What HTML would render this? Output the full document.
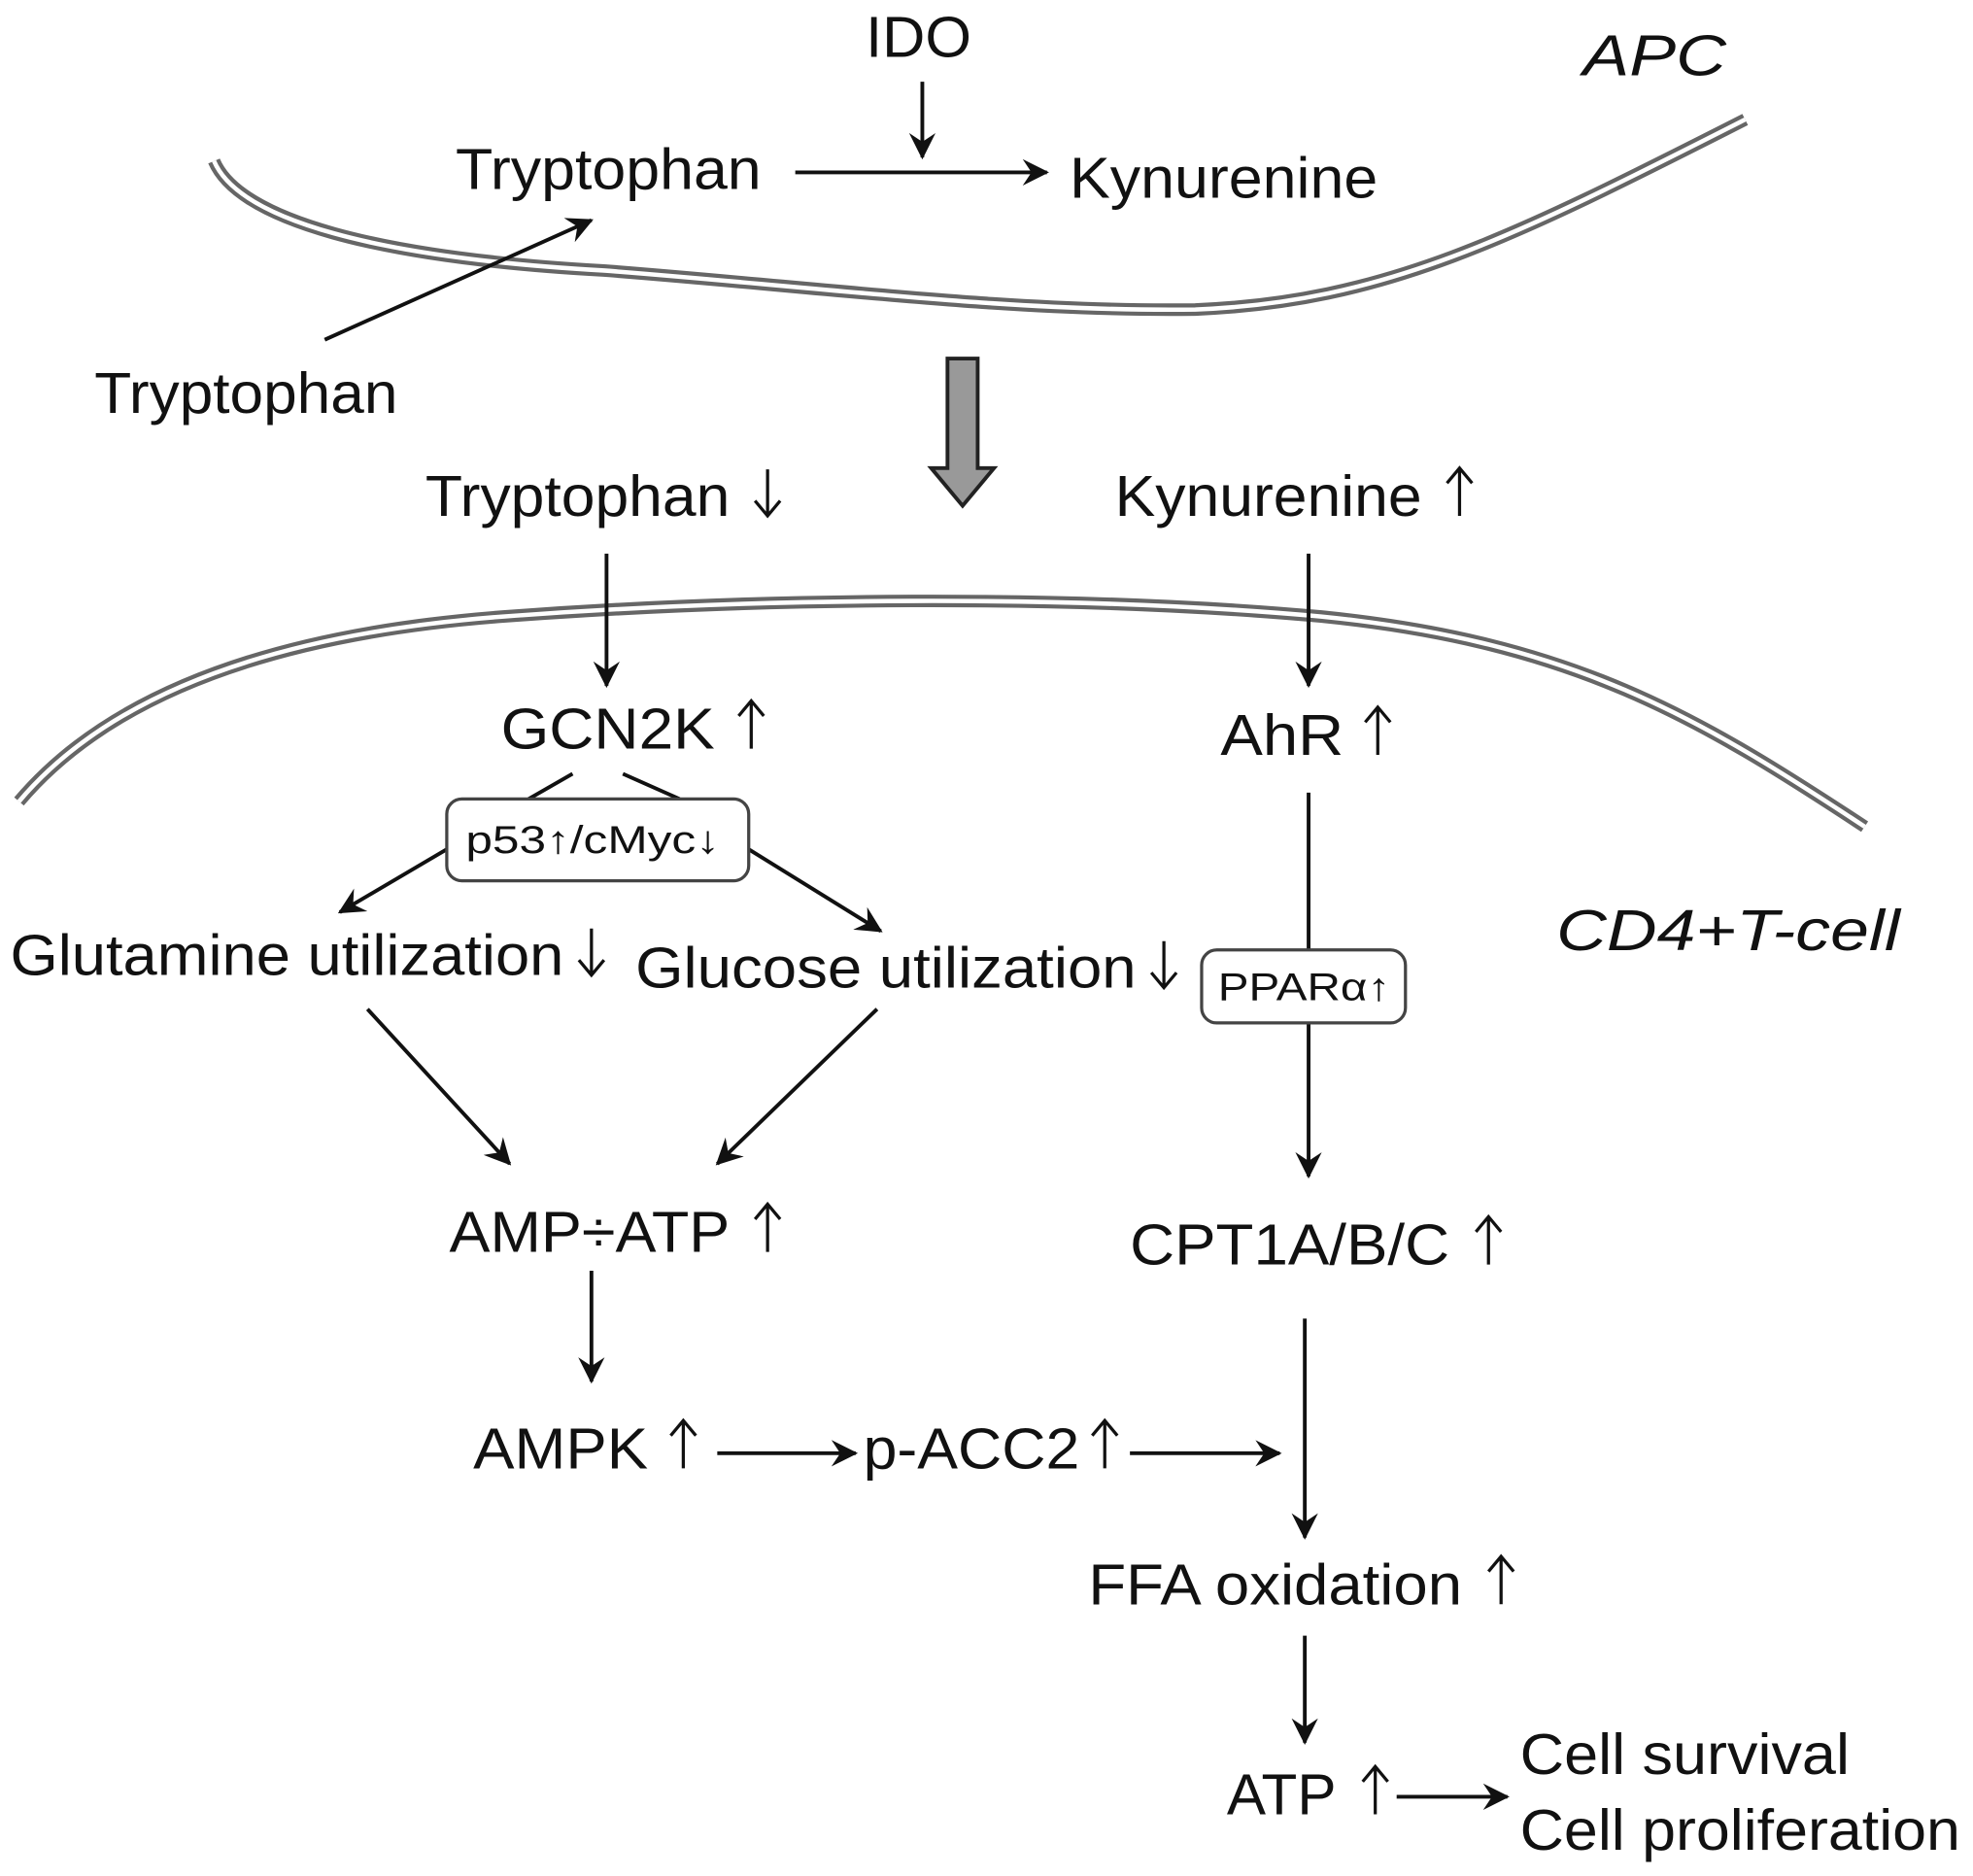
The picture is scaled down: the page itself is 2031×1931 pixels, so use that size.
<!DOCTYPE html>
<html><head><meta charset="utf-8"><style>
html,body{margin:0;padding:0;background:#fff;}
svg{display:block;}
text{font-family:"Liberation Sans",Arial,sans-serif;fill:#111;}
</style></head><body>
<svg width="2031" height="1931" viewBox="0 0 1568 1491" xmlns="http://www.w3.org/2000/svg">
<defs>
<marker id="a" viewBox="0 0 12 12" refX="11" refY="6" markerWidth="7" markerHeight="7" markerUnits="strokeWidth" orient="auto">
<path d="M0,0 L12,6 L0,12 L4,6 Z" fill="#111"/>
</marker>
</defs>
<rect width="1568" height="1491" fill="#fff"/>
<g fill="none">
<path d="M170,128 C190,175 300,205 480,215 C650,228 800,248 950,246 C1100,240 1200,190 1387,95" stroke="#666" stroke-width="10"/>
<path d="M170,128 C190,175 300,205 480,215 C650,228 800,248 950,246 C1100,240 1200,190 1387,95" stroke="#fff" stroke-width="3.5"/>
<path d="M15,637 C80,560 200,505 400,490 C600,475 850,472 1050,490 C1250,510 1350,570 1482,657" stroke="#666" stroke-width="10"/>
<path d="M15,637 C80,560 200,505 400,490 C600,475 850,472 1050,490 C1250,510 1350,570 1482,657" stroke="#fff" stroke-width="3.5"/>
</g>
<g font-size="46" lengthAdjust="spacingAndGlyphs">
<text x="688" y="45" textLength="84" lengthAdjust="spacingAndGlyphs">IDO</text>
<text x="1258" y="60" font-style="italic" textLength="114" lengthAdjust="spacingAndGlyphs">APC</text>
<text x="362" y="150" textLength="243" lengthAdjust="spacingAndGlyphs">Tryptophan</text>
<text x="850" y="157" textLength="245" lengthAdjust="spacingAndGlyphs">Kynurenine</text>
<text x="75" y="328" textLength="241" lengthAdjust="spacingAndGlyphs">Tryptophan</text>
<text x="338" y="410" textLength="242" lengthAdjust="spacingAndGlyphs">Tryptophan</text>
<text x="886" y="410" textLength="244" lengthAdjust="spacingAndGlyphs">Kynurenine</text>
<text x="398" y="595" textLength="170" lengthAdjust="spacingAndGlyphs">GCN2K</text>
<text x="970" y="600" textLength="98" lengthAdjust="spacingAndGlyphs">AhR</text>
<text x="8" y="775" textLength="440" lengthAdjust="spacingAndGlyphs">Glutamine utilization</text>
<text x="505" y="785" textLength="398" lengthAdjust="spacingAndGlyphs">Glucose utilization</text>
<text x="1237" y="755" font-style="italic" textLength="273" lengthAdjust="spacingAndGlyphs">CD4+T-cell</text>
<text x="357" y="995" textLength="223" lengthAdjust="spacingAndGlyphs">AMP÷ATP</text>
<text x="898" y="1005" textLength="254" lengthAdjust="spacingAndGlyphs">CPT1A/B/C</text>
<text x="376" y="1167" textLength="139" lengthAdjust="spacingAndGlyphs">AMPK</text>
<text x="686" y="1167" textLength="172" lengthAdjust="spacingAndGlyphs">p-ACC2</text>
<text x="865" y="1275" textLength="297" lengthAdjust="spacingAndGlyphs">FFA oxidation</text>
<text x="975" y="1442" textLength="87" lengthAdjust="spacingAndGlyphs">ATP</text>
<text x="1208" y="1410" textLength="262" lengthAdjust="spacingAndGlyphs">Cell survival</text>
<text x="1208" y="1470" textLength="350" lengthAdjust="spacingAndGlyphs">Cell proliferation</text>
</g>
<!-- up/down glyph arrows -->
<g stroke="#111" stroke-width="2.5" fill="none">
<path d="M610,373 V410 M600,398 L610,410 L620,398"/>
<path d="M1160,410 V372 M1150,384 L1160,372 L1170,384"/>
<path d="M597,595 V557 M587,569 L597,557 L607,569"/>
<path d="M1095,600 V562 M1085,574 L1095,562 L1105,574"/>
<path d="M470,738 V775 M460,763 L470,775 L480,763"/>
<path d="M925,748 V785 M915,773 L925,785 L935,773"/>
<path d="M610,995 V957 M600,969 L610,957 L620,969"/>
<path d="M1183,1005 V967 M1173,979 L1183,967 L1193,979"/>
<path d="M543,1167 V1129 M533,1141 L543,1129 L553,1141"/>
<path d="M878,1167 V1129 M868,1141 L878,1129 L888,1141"/>
<path d="M1193,1275 V1237 M1183,1249 L1193,1237 L1203,1249"/>
<path d="M1093,1442 V1404 M1083,1416 L1093,1404 L1103,1416"/>
</g>
<g stroke="#111" stroke-width="3" fill="none">
<line x1="733" y1="65" x2="733" y2="125" marker-end="url(#a)"/>
<line x1="632" y1="137" x2="832" y2="137" marker-end="url(#a)"/>
<line x1="258" y1="270" x2="470" y2="175" marker-end="url(#a)"/>
<line x1="482" y1="440" x2="482" y2="545" marker-end="url(#a)"/>
<line x1="1040" y1="440" x2="1040" y2="545" marker-end="url(#a)"/>
<line x1="455" y1="615" x2="420" y2="635"/>
<line x1="495" y1="615" x2="540" y2="635"/>
<line x1="355" y1="675" x2="270" y2="725" marker-end="url(#a)"/>
<line x1="595" y1="675" x2="700" y2="740" marker-end="url(#a)"/>
<line x1="1040" y1="630" x2="1040" y2="755"/>
<line x1="1040" y1="813" x2="1040" y2="935" marker-end="url(#a)"/>
<line x1="292" y1="802" x2="405" y2="925" marker-end="url(#a)"/>
<line x1="697" y1="802" x2="570" y2="925" marker-end="url(#a)"/>
<line x1="470" y1="1010" x2="470" y2="1098" marker-end="url(#a)"/>
<line x1="570" y1="1155" x2="680" y2="1155" marker-end="url(#a)"/>
<line x1="898" y1="1155" x2="1017" y2="1155" marker-end="url(#a)"/>
<line x1="1037" y1="1048" x2="1037" y2="1222" marker-end="url(#a)"/>
<line x1="1037" y1="1300" x2="1037" y2="1385" marker-end="url(#a)"/>
<line x1="1110" y1="1428" x2="1198" y2="1428" marker-end="url(#a)"/>
</g>
<rect x="355" y="635" width="240" height="65" rx="12" fill="#fff" stroke="#444" stroke-width="2.5"/>
<text x="370" y="678" font-size="31" textLength="202" lengthAdjust="spacingAndGlyphs" fill="#333">p53↑/cMyc↓</text>
<rect x="955" y="755" width="162" height="58" rx="12" fill="#fff" stroke="#444" stroke-width="2.5"/>
<text x="968" y="795" font-size="31" textLength="137" lengthAdjust="spacingAndGlyphs" fill="#333">PPARα↑</text>
<path d="M753,285 L777,285 L777,372 L790,372 L765,402 L740,372 L753,372 Z" fill="#999" stroke="#222" stroke-width="3"/>
</svg>
</body></html>
